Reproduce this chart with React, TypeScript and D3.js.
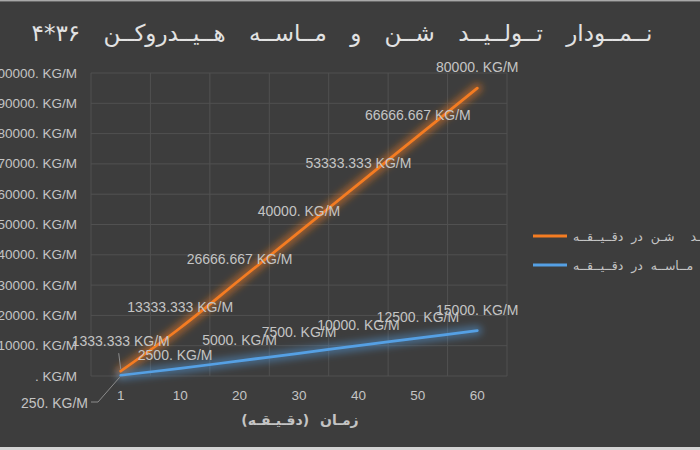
import React from 'react';
import * as d3 from 'd3';

// ---- data ----
const categories = ['1', '10', '20', '30', '40', '50', '60'];
// شن (gravel) – orange, stacked on top of sand
const gravelPerMin = [1333.333, 13333.333, 26666.667, 40000, 53333.333, 66666.667, 80000];
// ماسه (sand) – blue, base series
const sandPerMin = [250, 2500, 5000, 7500, 10000, 12500, 15000];
const yTicks = [0, 10000, 20000, 30000, 40000, 50000, 60000, 70000, 80000, 90000, 100000];
const titleText = 'نــمــودار تــولــیــد شــن و مــاســه هــیــدروکــن ۳۶*۴';
const xTitleText = 'زمـان (دقـیـقـه)';
const legendGravel = 'تـولـیـد\u00A0 شـن در دقــیــقــه';
const legendSand = 'تـولـیـد\u00A0 مــاســه در دقــیــقــه';

const ORANGE = '#f47c22';
const BLUE = '#55a0e4';
const TXT = '#c4c4c4';
const GRID = '#515151';
const BG = '#3d3d3d';

const fmtLabel = (v: number) => (Number.isInteger(v) ? `${v}. KG/M` : `${v.toFixed(3)} KG/M`);
const fmtTick = (v: number) => (v === 0 ? '. KG/M' : `${v}. KG/M`);

export default function App() {
  const W = 700;
  const H = 450;
  const x = d3.scaleBand<string>().domain(categories).range([91, 507]).padding(0);
  const y = d3.scaleLinear().domain([0, 100000]).range([376, 73]);
  const cx = (c: string) => (x(c) as number) + x.bandwidth() / 2;

  const sandTop = sandPerMin.map((v) => v);
  const gravelTop = gravelPerMin.map((v, i) => v + sandPerMin[i]);

  const line = d3
    .line<number>()
    .x((_, i) => cx(categories[i]))
    .y((d) => y(d))
    .curve(d3.curveCatmullRom.alpha(0.5));

  const sandPath = line(sandTop) || '';
  const gravelPath = line(gravelTop) || '';

  const font = "'Liberation Sans', Arial, sans-serif";
  const arabicFont = "'DejaVu Sans', sans-serif";
  const labelSize = 14;

  // label placement (offsets relative to each point)
  const defaultDy = -21;
  const gravelOffsets: Record<number, { dx: number; dy: number }> = { 0: { dx: 0, dy: -30 } };
  const sandOffsets: Record<number, { dx: number; dy: number }> = { 1: { dx: -5, dy: -13 } };

  const vLines = [...categories.map((c) => x(c) as number), 507];

  const p0g = { x: cx(categories[0]), y: y(gravelTop[0]) };
  const p0s = { x: cx(categories[0]), y: y(sandTop[0]) };

  return (
    <div style={{ position: 'fixed', left: 0, top: 0 }}>
      <svg width={W} height={H} style={{ display: 'block' }}>
        <defs>
          <filter id="glow" filterUnits="userSpaceOnUse" x="0" y="0" width={W} height={H}>
            <feGaussianBlur stdDeviation="3.5" />
          </filter>
        </defs>
        <rect x={0} y={0} width={W} height={H} fill={BG} />
        <rect x={0} y={0} width={W} height={1} fill="#a8a8a8" />
        <rect x={0} y={1} width={W} height={1} fill="#6a6a6a" />
        <rect x={0} y={447} width={W} height={3} fill="#d4d4d4" />

        {/* title */}
        <text
          x={342}
          y={33}
          textAnchor="middle"
          dominantBaseline="central"
          fill="#e2e2e2"
          fontFamily={arabicFont}
          fontSize={23}
          style={{ wordSpacing: '16px' }}
        >
          {titleText}
        </text>

        {/* gridlines */}
        {yTicks.map((t) => (
          <line key={'h' + t} x1={91} x2={507} y1={y(t)} y2={y(t)} stroke={GRID} strokeWidth={1} />
        ))}
        {vLines.map((v, i) => (
          <line key={'v' + i} x1={v} x2={v} y1={73} y2={376} stroke={GRID} strokeWidth={1} />
        ))}

        {/* y tick labels */}
        {yTicks.map((t) => (
          <text
            key={'yt' + t}
            x={77}
            y={y(t)}
            textAnchor="end"
            dominantBaseline="central"
            fill={TXT}
            fontFamily={font}
            fontSize={13.5}
          >
            {fmtTick(t)}
          </text>
        ))}

        {/* x tick labels */}
        {categories.map((c) => (
          <text
            key={'xt' + c}
            x={cx(c)}
            y={395}
            textAnchor="middle"
            dominantBaseline="central"
            fill={TXT}
            fontFamily={font}
            fontSize={13.5}
          >
            {c}
          </text>
        ))}

        {/* x title */}
        <text
          x={300}
          y={420}
          textAnchor="middle"
          dominantBaseline="central"
          fill={TXT}
          fontFamily={arabicFont}
          fontSize={14}
          fontWeight="bold"
          style={{ wordSpacing: '6px' }}
        >
          {xTitleText}
        </text>

        {/* glow */}
        <path d={gravelPath} fill="none" stroke={ORANGE} strokeWidth={10} strokeOpacity={0.5} filter="url(#glow)" strokeLinecap="round" />
        <path d={sandPath} fill="none" stroke={BLUE} strokeWidth={10} strokeOpacity={0.45} filter="url(#glow)" strokeLinecap="round" />
        {/* lines */}
        <path d={gravelPath} fill="none" stroke={ORANGE} strokeWidth={2.75} strokeLinecap="round" />
        <path d={sandPath} fill="none" stroke={BLUE} strokeWidth={2.75} strokeLinecap="round" />

        {/* leader lines */}
        <polyline
          points={`${p0g.x - 2},${p0g.y - 18} ${p0g.x},${p0g.y - 2}`}
          fill="none"
          stroke="#8c8c8c"
          strokeWidth={1}
        />
        <polyline
          points={`91,402 98,402 ${p0s.x - 1},${p0s.y + 2}`}
          fill="none"
          stroke="#8c8c8c"
          strokeWidth={1}
        />

        {/* gravel labels */}
        {gravelPerMin.map((v, i) => {
          const o = gravelOffsets[i] || { dx: 0, dy: defaultDy };
          return (
            <text
              key={'gl' + i}
              x={cx(categories[i]) + o.dx}
              y={y(gravelTop[i]) + o.dy}
              textAnchor="middle"
              dominantBaseline="central"
              fill={TXT}
              fontFamily={font}
              fontSize={labelSize}
            >
              {fmtLabel(v)}
            </text>
          );
        })}
        {/* sand labels */}
        {sandPerMin.map((v, i) => {
          if (i === 0) {
            return (
              <text
                key={'sl' + i}
                x={88}
                y={403}
                textAnchor="end"
                dominantBaseline="central"
                fill={TXT}
                fontFamily={font}
                fontSize={labelSize}
              >
                {fmtLabel(v)}
              </text>
            );
          }
          const o = sandOffsets[i] || { dx: 0, dy: defaultDy };
          return (
            <text
              key={'sl' + i}
              x={cx(categories[i]) + o.dx}
              y={y(sandTop[i]) + o.dy}
              textAnchor="middle"
              dominantBaseline="central"
              fill={TXT}
              fontFamily={font}
              fontSize={labelSize}
            >
              {fmtLabel(v)}
            </text>
          );
        })}

        {/* legend */}
        <line x1={533} x2={567} y1={236} y2={236} stroke={ORANGE} strokeWidth={3} />
        <text
          x={573}
          y={236}
          textAnchor="start"
          dominantBaseline="central"
          fill={TXT}
          fontFamily={arabicFont}
          fontSize={12.5}
          style={{ wordSpacing: '4px' }}
        >
          {legendGravel}
        </text>
        <line x1={533} x2={567} y1={265} y2={265} stroke={BLUE} strokeWidth={3} />
        <text
          x={573}
          y={265}
          textAnchor="start"
          dominantBaseline="central"
          fill={TXT}
          fontFamily={arabicFont}
          fontSize={12.5}
          style={{ wordSpacing: '4px' }}
        >
          {legendSand}
        </text>
      </svg>
    </div>
  );
}
